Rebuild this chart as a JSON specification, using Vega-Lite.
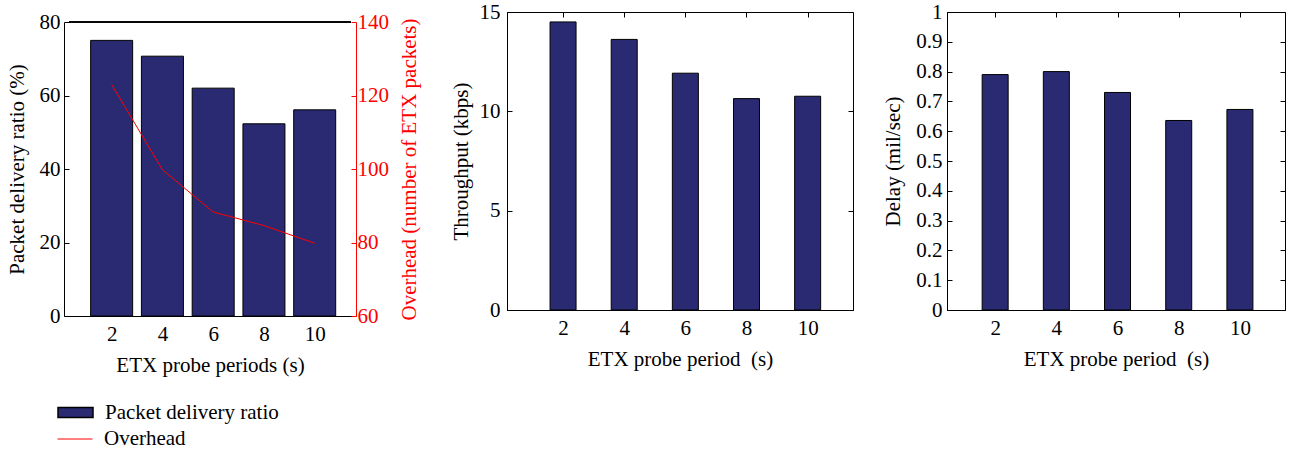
{
  "$schema": "https://vega.github.io/schema/vega-lite/v6.json",
  "autosize": {"type": "pad"},
  "padding": {"left": 6, "top": 0, "right": 0, "bottom": 0},
  "background": "white",
  "config": {
    "font": "Liberation Serif",
    "view": {"stroke": "black", "strokeWidth": 1},
    "axis": {
      "labelFont": "Liberation Serif", "titleFont": "Liberation Serif",
      "labelFontSize": 21, "titleFontSize": 21, "titleFontWeight": "normal",
      "labelColor": "black", "titleColor": "black", "domainColor": "black", "tickColor": "black",
      "tickSize": -5, "grid": false, "labelFlush": false, "labelOverlap": false
    },
    "legend": {"labelFont": "Liberation Serif", "labelFontSize": 21, "labelColor": "black", "padding": 0, "labelLimit": 0}
  },
  "datasets": {
    "d": [
      {"period": 2, "pdr": 75.0, "overhead": 123.0, "tp": 14.5, "delay": 0.79},
      {"period": 4, "pdr": 70.7, "overhead": 99.8, "tp": 13.62, "delay": 0.80},
      {"period": 6, "pdr": 62.0, "overhead": 88.3, "tp": 11.92, "delay": 0.73},
      {"period": 8, "pdr": 52.3, "overhead": 84.6, "tp": 10.64, "delay": 0.636},
      {"period": 10, "pdr": 56.1, "overhead": 79.8, "tp": 10.76, "delay": 0.673}
    ]
  },
  "spacing": 94,
  "bounds": "flush",
  "hconcat": [
    {
      "width": 349, "height": 304,
      "view": {"stroke": null},
      "data": {"name": "d"},
      "layer": [
        {"layer": [
          {"mark": {"type": "bar", "width": 42, "stroke": "black", "strokeWidth": 1},
           "encoding": {
             "x": {"field": "period", "type": "quantitative",
                   "scale": {"domain": [0.32, 11.43], "range": [0, 292], "nice": false, "zero": false},
                   "axis": {"values": [2, 4, 6, 8, 10], "title": "ETX probe periods (s)", "labelPadding": 12, "titlePadding": 10}},
             "y": {"field": "pdr", "type": "quantitative",
                   "scale": {"domain": [0, 80], "range": [304, 10], "nice": false},
                   "axis": {"values": [0, 20, 40, 60, 80], "title": "Packet delivery ratio (%)", "labelPadding": 9, "titlePadding": 12}},
             "fill": {"datum": "Packet delivery ratio", "scale": {"range": ["#2a2a73"]},
                      "legend": {"title": null, "orient": "none", "legendX": -7, "legendY": 382,
                                 "symbolType": "M-1,-0.28H1V0.28H-1Z", "symbolSize": 1225, "labelOffset": 11,
                                 "encode": {"symbols": {"update": {"stroke": {"value": "black"}, "strokeWidth": {"value": 1}}}}}}
           }},
          {"mark": {"type": "rule", "color": "black", "strokeWidth": 1},
           "encoding": {"x": {"datum": 0.32}, "x2": {"datum": 11.43}, "y": {"datum": 80}}}
        ]},
        {"mark": {"type": "line", "color": "red", "strokeWidth": 1},
         "encoding": {
           "x": {"field": "period", "type": "quantitative"},
           "y": {"field": "overhead", "type": "quantitative",
                 "scale": {"domain": [60, 140], "range": [304, 10], "nice": false, "zero": false},
                 "axis": {"orient": "right", "offset": -57, "values": [60, 80, 100, 120, 140],
                          "title": "Overhead (number of ETX packets)", "titleAngle": 270, "titleBaseline": "top",
                          "labelColor": "red", "titleColor": "red",
                          "domainColor": "red", "tickColor": "red", "labelPadding": 6, "titlePadding": 10}},
           "stroke": {"datum": "Overhead", "scale": {"range": ["red"]},
                      "legend": {"title": null, "orient": "none", "legendX": -7, "legendY": 409,
                                 "symbolType": "stroke", "symbolSize": 1225, "symbolStrokeWidth": 1, "labelOffset": 11}}
         }}
      ],
      "resolve": {"scale": {"y": "independent", "fill": "independent", "stroke": "independent"}}
    },
    {
      "width": 346, "height": 298,
      "data": {"name": "d"},
      "layer": [
        {"mark": {"type": "bar", "width": 26, "fill": "#2a2a73", "stroke": "black", "strokeWidth": 1},
         "encoding": {
           "x": {"field": "period", "type": "quantitative",
                 "scale": {"domain": [0.33, 11.32], "nice": false, "zero": false},
                 "axis": {"values": [2, 4, 6, 8, 10], "title": "ETX probe period\u00a0 (s)", "labelPadding": 12, "titlePadding": 10}},
           "y": {"field": "tp", "type": "quantitative",
                 "scale": {"domain": [0, 15], "nice": false},
                 "axis": {"values": [0, 5, 10, 15], "title": "Throughput (kbps)", "labelPadding": 12, "titlePadding": 8}}
         }},
        {"mark": {"type": "point", "opacity": 0},
         "encoding": {
           "x": {"field": "period", "type": "quantitative",
                 "axis": {"orient": "top", "values": [2, 4, 6, 8, 10], "labels": false, "title": null, "domain": false}},
           "y": {"field": "tp", "type": "quantitative",
                 "axis": {"orient": "right", "values": [0, 5, 10, 15], "labels": false, "title": null, "domain": false}}
         }}
      ],
      "resolve": {"axis": {"x": "independent", "y": "independent"}}
    },
    {
      "width": 338, "height": 298,
      "data": {"name": "d"},
      "layer": [
        {"mark": {"type": "bar", "width": 26, "fill": "#2a2a73", "stroke": "black", "strokeWidth": 1},
         "encoding": {
           "x": {"field": "period", "type": "quantitative",
                 "scale": {"domain": [0.59, 11.31], "nice": false, "zero": false},
                 "axis": {"values": [2, 4, 6, 8, 10], "title": "ETX probe period\u00a0 (s)", "labelPadding": 12, "titlePadding": 10}},
           "y": {"field": "delay", "type": "quantitative",
                 "scale": {"domain": [0, 1], "nice": false},
                 "axis": {"values": [0, 0.1, 0.2, 0.3, 0.4, 0.5, 0.6, 0.7, 0.8, 0.9, 1], "format": "~g", "title": "Delay (mil/sec)", "labelPadding": 10, "titlePadding": 12}}
         }},
        {"mark": {"type": "point", "opacity": 0},
         "encoding": {
           "x": {"field": "period", "type": "quantitative",
                 "axis": {"orient": "top", "values": [2, 4, 6, 8, 10], "labels": false, "title": null, "domain": false}},
           "y": {"field": "delay", "type": "quantitative",
                 "axis": {"orient": "right", "values": [0, 0.1, 0.2, 0.3, 0.4, 0.5, 0.6, 0.7, 0.8, 0.9, 1], "labels": false, "title": null, "domain": false}}
         }}
      ],
      "resolve": {"axis": {"x": "independent", "y": "independent"}}
    }
  ]
}
